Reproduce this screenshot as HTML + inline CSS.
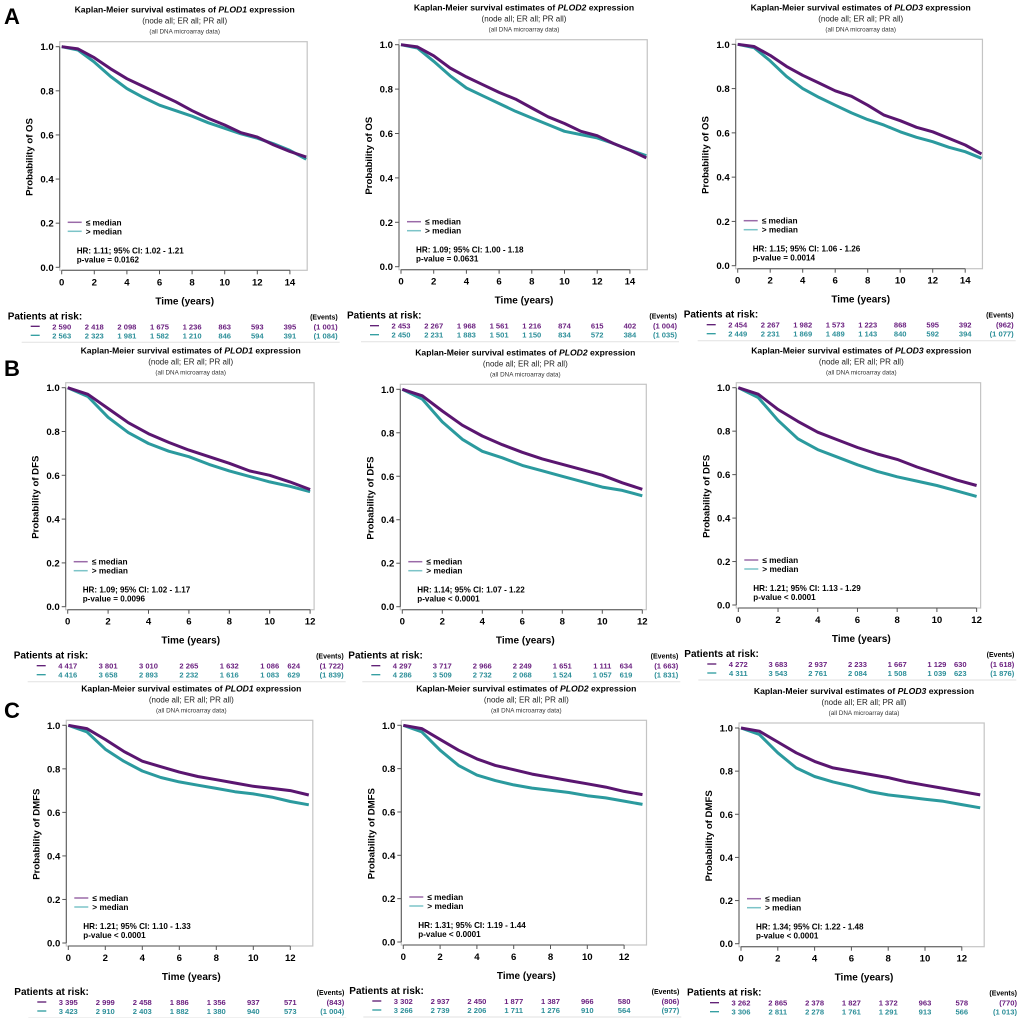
<!DOCTYPE html>
<html><head><meta charset="utf-8"><title>Kaplan-Meier PLOD1-3</title>
<style>
html,body{margin:0;padding:0;background:#fff;}
svg{display:block;font-family:"Liberation Sans",Arial,sans-serif;}
</style></head>
<body>
<svg id="fig" width="1020" height="1018" viewBox="0 0 1020 1018" xmlns="http://www.w3.org/2000/svg">
<text x="4" y="24" font-size="22" font-weight="bold">A</text>
<text x="4" y="376" font-size="22" font-weight="bold">B</text>
<text x="4" y="718" font-size="22" font-weight="bold">C</text>
</svg>
<script>
// ---- data: survival probabilities at yearly time points ----
const a1Low  = [1,.99,.95,.90,.855,.82,.785,.75,.71,.675,.645,.61,.59,.555,.525,.50];
const a1High = [1,.985,.93,.865,.81,.77,.735,.71,.685,.655,.63,.605,.585,.56,.53,.49];
const a2Low  = [1,.99,.95,.895,.855,.82,.785,.755,.715,.675,.645,.61,.59,.555,.525,.49];
const a2High = [1,.985,.925,.86,.805,.77,.735,.70,.67,.64,.61,.595,.58,.555,.525,.50];
const a3Low  = [1,.99,.95,.90,.86,.825,.79,.765,.725,.68,.655,.625,.605,.575,.545,.505];
const a3High = [1,.985,.925,.855,.80,.76,.725,.69,.66,.635,.605,.58,.56,.535,.515,.485];
const b1Low  = [1,.97,.905,.84,.79,.75,.715,.685,.655,.62,.60,.57,.535];
const b1High = [1,.96,.865,.795,.745,.71,.685,.65,.62,.595,.57,.55,.525];
const b2Low  = [1,.97,.90,.835,.785,.745,.71,.68,.655,.63,.605,.57,.54];
const b2High = [1,.955,.85,.77,.715,.685,.65,.625,.60,.575,.55,.535,.51];
const b3Low  = [1,.97,.90,.845,.795,.76,.725,.695,.67,.635,.605,.575,.55];
const b3High = [1,.955,.85,.765,.715,.68,.645,.615,.59,.57,.55,.525,.50];
const c1Low  = [1,.985,.935,.88,.835,.81,.785,.765,.75,.735,.72,.71,.70,.68];
const c1High = [1,.97,.89,.835,.79,.76,.74,.725,.71,.695,.685,.67,.65,.635];
const c2Low  = [1,.985,.935,.885,.845,.815,.795,.775,.76,.745,.73,.715,.695,.68];
const c2High = [1,.97,.885,.815,.77,.745,.725,.71,.70,.69,.675,.665,.65,.635];
const c3Low  = [1,.985,.935,.885,.845,.815,.80,.785,.77,.75,.735,.72,.705,.69];
const c3High = [1,.97,.885,.815,.775,.75,.73,.705,.69,.68,.67,.66,.645,.63];
// ---- tick labels ----
const yTicks = [0,0.2,0.4,0.6,0.8,1.0];
const xTicksOS = [0,2,4,6,8,10,12,14];
const xTicksFS = [0,2,4,6,8,10,12];
// ---- patients at risk ----
const a1RiskLow=["2 590","2 418","2 098","1 675","1 236","863","593","395"], a1RiskHigh=["2 563","2 323","1 981","1 582","1 210","846","594","391"];
const a2RiskLow=["2 453","2 267","1 968","1 561","1 216","874","615","402"], a2RiskHigh=["2 450","2 231","1 883","1 501","1 150","834","572","384"];
const a3RiskLow=["2 454","2 267","1 982","1 573","1 223","868","595","392"], a3RiskHigh=["2 449","2 231","1 869","1 489","1 143","840","592","394"];
const b1RiskLow=["4 417","3 801","3 010","2 265","1 632","1 086","624"], b1RiskHigh=["4 416","3 658","2 893","2 232","1 616","1 083","629"];
const b2RiskLow=["4 297","3 717","2 966","2 249","1 651","1 111","634"], b2RiskHigh=["4 286","3 509","2 732","2 068","1 524","1 057","619"];
const b3RiskLow=["4 272","3 683","2 937","2 233","1 667","1 129","630"], b3RiskHigh=["4 311","3 543","2 761","2 084","1 508","1 039","623"];
const c1RiskLow=["3 395","2 999","2 458","1 886","1 356","937","571"], c1RiskHigh=["3 423","2 910","2 403","1 882","1 380","940","573"];
const c2RiskLow=["3 302","2 937","2 450","1 877","1 387","966","580"], c2RiskHigh=["3 266","2 739","2 206","1 711","1 276","910","564"];
const c3RiskLow=["3 262","2 865","2 378","1 827","1 372","963","578"], c3RiskHigh=["3 306","2 811","2 278","1 761","1 291","913","566"];
const eventsLow  = ["(1 001)","(1 004)","(962)","(1 722)","(1 663)","(1 618)","(843)","(806)","(770)"];
const eventsHigh = ["(1 084)","(1 035)","(1 077)","(1 839)","(1 831)","(1 876)","(1 004)","(977)","(1 013)"];
const hrTexts = ["HR: 1.11; 95% CI: 1.02 - 1.21","HR: 1.09; 95% CI: 1.00 - 1.18","HR: 1.15; 95% CI: 1.06 - 1.26",
 "HR: 1.09; 95% CI: 1.02 - 1.17","HR: 1.14; 95% CI: 1.07 - 1.22","HR: 1.21; 95% CI: 1.13 - 1.29",
 "HR: 1.21; 95% CI: 1.10 - 1.33","HR: 1.31; 95% CI: 1.19 - 1.44","HR: 1.34; 95% CI: 1.22 - 1.48"];
const pTexts = ["p-value = 0.0162","p-value = 0.0631","p-value = 0.0014",
 "p-value = 0.0096","p-value < 0.0001","p-value < 0.0001",
 "p-value < 0.0001","p-value < 0.0001","p-value < 0.0001"];

const PURPLE="#5a1670", TEAL="#2b9a9e", PTXT="#6b2180", TTXT="#2d8f99";
const NS="http://www.w3.org/2000/svg";
const svg=document.getElementById('fig');
function mk(tag,attrs,parent,text){const e=document.createElementNS(NS,tag);for(const k in attrs)e.setAttribute(k,attrs[k]);if(text!==undefined)e.textContent=text;(parent||svg).appendChild(e);return e;}

const panels=[
 {id:'a1',gene:'PLOD1',yl:'OS',x0:61.7,ppy:16.3,y1:46.7,y0:267.3,xmax:15,ticks:xTicksOS,low:a1Low,high:a1High,rl:a1RiskLow,rh:a1RiskHigh},
 {id:'a2',gene:'PLOD2',yl:'OS',x0:401,ppy:16.35,y1:44.7,y0:266.7,xmax:15,ticks:xTicksOS,low:a2Low,high:a2High,rl:a2RiskLow,rh:a2RiskHigh},
 {id:'a3',gene:'PLOD3',yl:'OS',x0:737.7,ppy:16.25,y1:44.3,y0:265.7,xmax:15,ticks:xTicksOS,low:a3Low,high:a3High,rl:a3RiskLow,rh:a3RiskHigh},
 {id:'b1',gene:'PLOD1',yl:'DFS',x0:67.7,ppy:20.2,y1:387.7,y0:606.7,xmax:12,ticks:xTicksFS,low:b1Low,high:b1High,rl:b1RiskLow,rh:b1RiskHigh},
 {id:'b2',gene:'PLOD2',yl:'DFS',x0:402.3,ppy:20.0,y1:389.3,y0:606.7,xmax:12,ticks:xTicksFS,low:b2Low,high:b2High,rl:b2RiskLow,rh:b2RiskHigh},
 {id:'b3',gene:'PLOD3',yl:'DFS',x0:738.3,ppy:19.86,y1:387.7,y0:605,xmax:12,ticks:xTicksFS,low:b3Low,high:b3High,rl:b3RiskLow,rh:b3RiskHigh},
 {id:'c1',gene:'PLOD1',yl:'DMFS',x0:68.3,ppy:18.5,y1:725.3,y0:943,xmax:13,ticks:xTicksFS,low:c1Low,high:c1High,rl:c1RiskLow,rh:c1RiskHigh},
 {id:'c2',gene:'PLOD2',yl:'DMFS',x0:403.3,ppy:18.4,y1:725.3,y0:942,xmax:13,ticks:xTicksFS,low:c2Low,high:c2High,rl:c2RiskLow,rh:c2RiskHigh},
 {id:'c3',gene:'PLOD3',yl:'DMFS',x0:741,ppy:18.4,y1:728,y0:943.7,xmax:13,ticks:xTicksFS,low:c3Low,high:c3High,rl:c3RiskLow,rh:c3RiskHigh}
];

panels.forEach((p,i)=>{
 const xAt=t=>p.x0+t*p.ppy;
 const yAt=v=>p.y0-v*(p.y0-p.y1);
 const g=mk('g',{});
 
 
 const cx=p.x0+123;
 const t=mk('text',{x:cx,y:p.y1-34,'font-size':8.6,'font-weight':'bold','text-anchor':'middle'},g);
 
 
 mk('tspan',{},t,'Kaplan-Meier survival estimates of ');
 mk('tspan',{'font-style':'italic'},t,p.gene);
 mk('tspan',{},t,' expression');
 const s1=mk('text',{x:cx,y:p.y1-23,'font-size':8,'text-anchor':'middle',fill:'#222'},g,'(node all; ER all; PR all)');
 
 
 const s2=mk('text',{x:cx,y:p.y1-13,'font-size':6.3,'text-anchor':'middle',fill:'#333'},g,'(all DNA microarray data)');
 
 
 const bx=p.x0-2, by=p.y1-5, bw=xAt(p.xmax)+ (p.xmax===15?1:4) - bx, bh=p.y0+3-by;
 const box=mk('rect',{x:bx,y:by,width:bw,height:bh,fill:'none',stroke:'#c4c4c4','stroke-width':1.2},g);
 
 
 const ya=mk('line',{x1:bx,y1:yAt(1),x2:bx,y2:yAt(0),stroke:'#555','stroke-width':1},g);
 
 
 yTicks.forEach(v=>{
  mk('line',{x1:bx-4,y1:yAt(v),x2:bx,y2:yAt(v),stroke:'#555'},g);
  const l=mk('text',{x:bx-6,y:yAt(v)+3.5,'font-size':9.6,'font-weight':'bold','text-anchor':'end'},g,v.toFixed(1));
  
  
 });
 const my=(p.y0+p.y1)/2;
 const yl=mk('text',{x:p.x0-29,y:my,'font-size':9.6,'font-weight':'bold','text-anchor':'middle',transform:`rotate(-90 ${p.x0-29} ${my})`},g,'Probability of '+p.yl);
 
 
 const xa=mk('line',{x1:xAt(0),y1:p.y0+3,x2:xAt(p.ticks[p.ticks.length-1]),y2:p.y0+3,stroke:'#555'},g);
 
 
 p.ticks.forEach(v=>{
  mk('line',{x1:xAt(v),y1:p.y0+3,x2:xAt(v),y2:p.y0+7,stroke:'#555'},g);
  const l=mk('text',{x:xAt(v),y:p.y0+18,'font-size':9.6,'font-weight':'bold','text-anchor':'middle'},g,String(v));
  
  
 });
 const xl=mk('text',{x:p.x0+123,y:p.y0+37,'font-size':10,'font-weight':'bold','text-anchor':'middle'},g,'Time (years)');
 
 
 const pts=arr=>arr.map((v,k)=>`${xAt(k).toFixed(1)},${yAt(v).toFixed(1)}`).join(' ');
 const ch=mk('polyline',{points:pts(p.high),fill:'none',stroke:TEAL,'stroke-width':3,'stroke-linejoin':'round'},g);
 
 
 const cl=mk('polyline',{points:pts(p.low),fill:'none',stroke:PURPLE,'stroke-width':3,'stroke-linejoin':'round'},g);
 
 
 const lg=mk('g',{},g);
 
 
 mk('line',{x1:p.x0+6,y1:p.y0-45,x2:p.x0+20,y2:p.y0-45,stroke:'#9a6aa8','stroke-width':1.5},lg);
 mk('text',{x:p.x0+24,y:p.y0-42,'font-size':8.3,'font-weight':'bold'},lg,'\u2264 median');
 mk('line',{x1:p.x0+6,y1:p.y0-36,x2:p.x0+20,y2:p.y0-36,stroke:'#7cc4c8','stroke-width':1.5},lg);
 mk('text',{x:p.x0+24,y:p.y0-33,'font-size':8.3,'font-weight':'bold'},lg,'> median');
 const hr=mk('text',{x:p.x0+15,y:p.y0-14,'font-size':8.1,'font-weight':'bold'},g,hrTexts[i]);
 
 
 const pv=mk('text',{x:p.x0+15,y:p.y0-5,'font-size':8.1,'font-weight':'bold'},g,pTexts[i]);
 
 
 const rt=mk('g',{},g);
 
 
 mk('text',{x:p.x0-54,y:p.y0+52,'font-size':10,'font-weight':'bold'},rt,'Patients at risk:');
 mk('text',{x:p.x0+276,y:p.y0+52,'font-size':7,'font-weight':'bold','text-anchor':'end'},rt,'(Events)');
 mk('line',{x1:p.x0-31,y1:p.y0+59,x2:p.x0-22,y2:p.y0+59,stroke:PURPLE,'stroke-width':1.3},rt);
 mk('line',{x1:p.x0-31,y1:p.y0+68,x2:p.x0-22,y2:p.y0+68,stroke:TEAL,'stroke-width':1.3},rt);
 const last=p.ticks.length-1;
 p.ticks.forEach((v,k)=>{
  const isLastFS = (p.xmax===12 && k===last);
  const x = isLastFS ? xAt(v)-10 : xAt(v);
  const anchor = isLastFS ? 'end' : 'middle';
  mk('text',{x:x,y:p.y0+62,'font-size':7.6,'font-weight':'bold','text-anchor':anchor,fill:PTXT},rt,p.rl[k]);
  mk('text',{x:x,y:p.y0+71,'font-size':7.6,'font-weight':'bold','text-anchor':anchor,fill:TTXT},rt,p.rh[k]);
 });
 mk('text',{x:p.x0+276,y:p.y0+62,'font-size':7.6,'font-weight':'bold','text-anchor':'end',fill:PTXT},rt,eventsLow[i]);
 mk('text',{x:p.x0+276,y:p.y0+71,'font-size':7.6,'font-weight':'bold','text-anchor':'end',fill:TTXT},rt,eventsHigh[i]);
 mk('line',{x1:p.x0-40,y1:p.y0+75,x2:p.x0+278,y2:p.y0+75,stroke:'#e2e2e2','stroke-width':1},rt);
});
</script>
</body></html>
